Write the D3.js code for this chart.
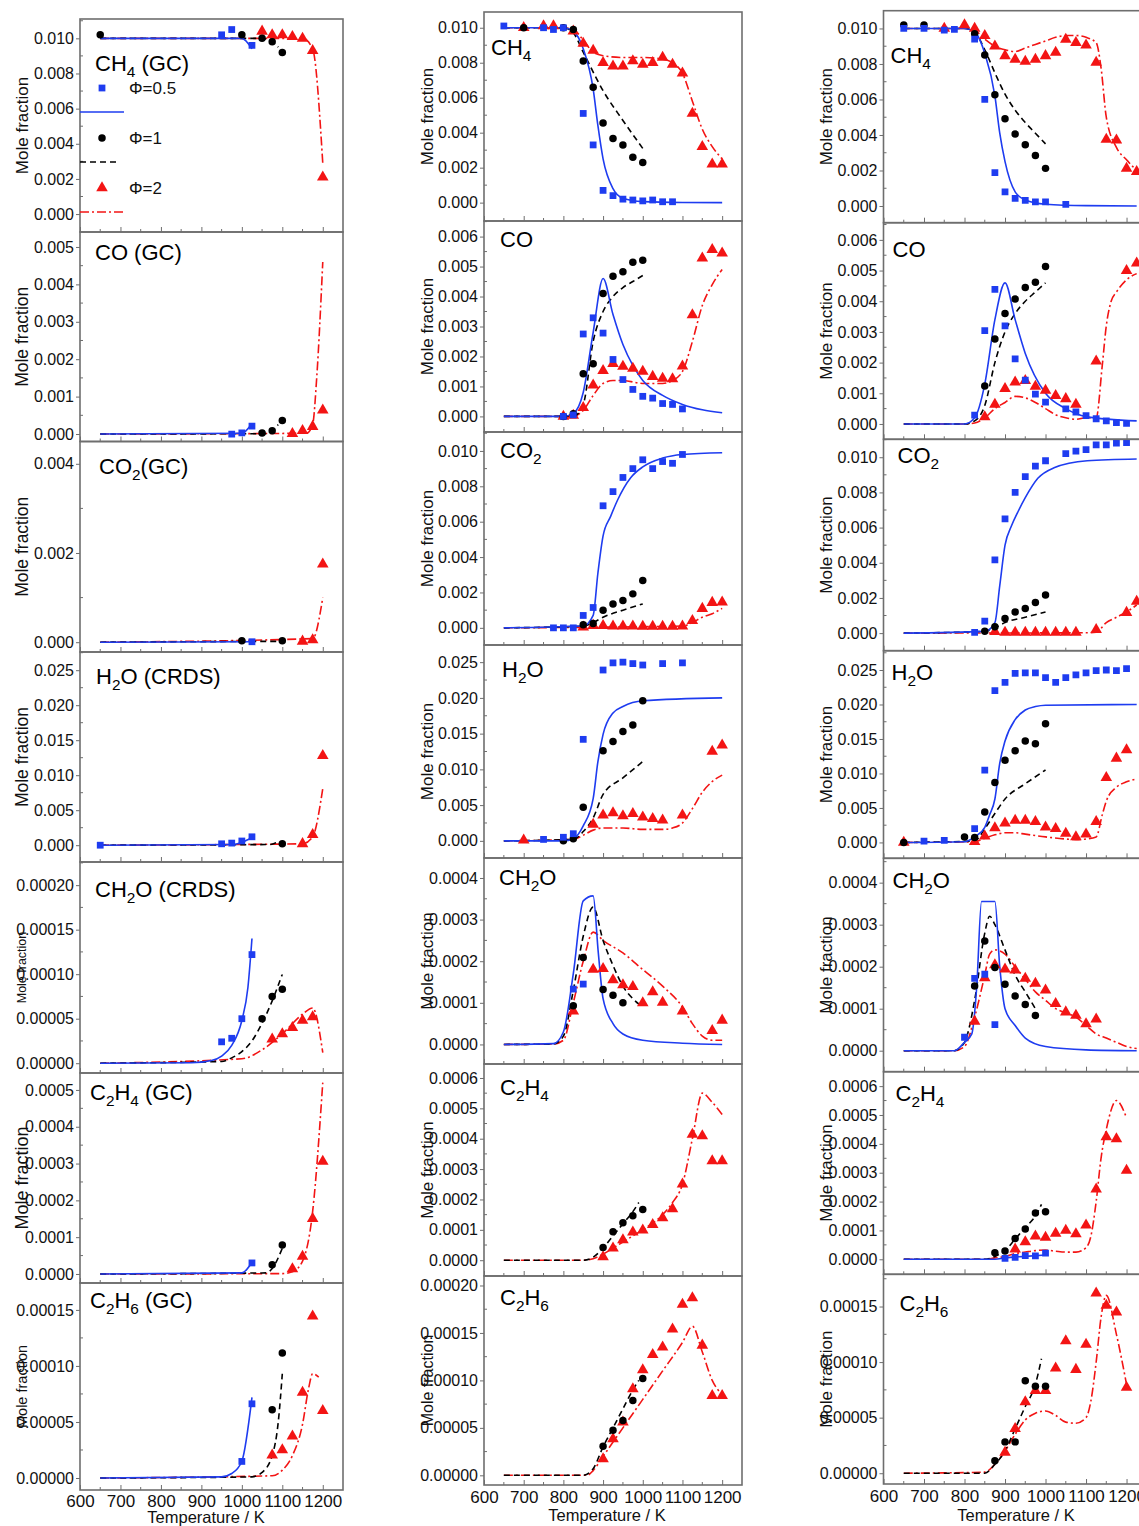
<!DOCTYPE html>
<html>
<head>
<meta charset="utf-8">
<script src="https://cdn.jsdelivr.net/npm/d3@7"></script>
<style>
  body { margin: 0; background: #fff; }
  svg { font-family: "Liberation Sans", Arial, sans-serif; }
</style>
</head>
<body>
<div id="chart"></div>
<script>
// ---------- data: [T (K), mole fraction] ----------
// column a (GC / CRDS)
var CH4_a_phi05 = [[950,0.0102],[975,0.0105],[1025,0.0096]];
var CH4_a_phi1  = [[650,0.0102],[1000,0.0102],[1050,0.0100],[1075,0.0098],[1100,0.0092]];
var CH4_a_phi2  = [[1050,0.0104],[1075,0.0102],[1100,0.0102],[1125,0.0101],[1150,0.0100],[1175,0.0093],[1200,0.0021]];
var CH4_a_sim05 = [[650,0.0100],[1000,0.0100],[1025,0.0094]];
var CH4_a_sim1  = [[650,0.0100],[1050,0.0100],[1075,0.0098],[1090,0.0095]];
var CH4_a_sim2  = [[650,0.0100],[1150,0.0100],[1175,0.0094],[1200,0.0029]];

var CO_a_phi05 = [[975,0.0],[1000,0.00003],[1025,0.00021]];
var CO_a_phi1  = [[1050,0.00003],[1075,0.00009],[1100,0.00036]];
var CO_a_phi2  = [[1125,0.00001],[1150,0.00009],[1175,0.0002],[1200,0.00064]];
var CO_a_sim05 = [[650,0],[1000,0.00002],[1025,0.00028]];
var CO_a_sim1  = [[650,0],[1060,0.00001],[1075,0.0001],[1090,0.00025]];
var CO_a_sim2  = [[650,0],[1160,0.00002],[1175,0.00025],[1185,0.0015],[1200,0.0046]];

var CO2_a_phi05 = [[1025,0.00001]];
var CO2_a_phi1  = [[1000,0.00003],[1100,0.00003]];
var CO2_a_phi2  = [[1150,0.00002],[1175,0.00005],[1200,0.00175]];
var CO2_a_sim05 = [[650,0],[1025,0.00001]];
var CO2_a_sim1  = [[650,0],[1100,0.00002]];
var CO2_a_sim2  = [[650,0],[1175,0.00008],[1200,0.001]];

var H2O_a_phi05 = [[650,0],[950,0.0002],[975,0.0003],[1000,0.0006],[1025,0.0012]];
var H2O_a_phi1  = [[1100,0.0002]];
var H2O_a_phi2  = [[1150,0.0002],[1175,0.0015],[1200,0.0128]];
var H2O_a_sim05 = [[650,0],[975,0.0001],[1000,0.0004],[1025,0.0011]];
var H2O_a_sim1  = [[650,0],[1070,0.0001],[1090,0.0004],[1100,0.0002]];
var H2O_a_sim2  = [[650,0],[1150,0.0002],[1175,0.0012],[1200,0.0081]];

var CH2O_a_phi05 = [[950,0.000024],[975,0.000028],[1000,0.00005],[1025,0.000122]];
var CH2O_a_phi1  = [[1050,0.00005],[1075,0.000075],[1100,0.000083]];
var CH2O_a_phi2  = [[1075,0.000027],[1100,0.000033],[1125,0.00004],[1150,0.000048],[1175,0.000052]];
var CH2O_a_sim05 = [[650,0],[875,0.0000005],[925,0.000003],[950,0.000008],[975,0.00002],[1000,0.000048],[1015,0.000085],[1025,0.00014]];
var CH2O_a_sim1  = [[650,0],[950,0.000002],[975,0.000006],[1000,0.000013],[1025,0.000025],[1050,0.000045],[1075,0.00007],[1100,0.0001]];
var CH2O_a_sim2  = [[650,0],[1000,0.000005],[1050,0.000015],[1100,0.000033],[1150,0.000055],[1175,0.000062],[1200,0.000012]];

var C2H4_a_phi05 = [[1025,0.00003]];
var C2H4_a_phi1  = [[1075,0.000025],[1100,0.000079]];
var C2H4_a_phi2  = [[1125,0.000014],[1150,0.000048],[1175,0.00015],[1200,0.000306]];
var C2H4_a_sim05 = [[650,0],[1000,0.000003],[1025,0.000032]];
var C2H4_a_sim1  = [[650,0],[1060,0.000003],[1075,0.000015],[1100,0.00007]];
var C2H4_a_sim2  = [[650,0],[1100,0.000001],[1125,0.000006],[1150,0.000035],[1175,0.00017],[1200,0.00052]];

var C2H6_a_phi05 = [[1000,0.0000148],[1025,0.0000662]];
var C2H6_a_phi1  = [[1075,0.000061],[1100,0.0001115]];
var C2H6_a_phi2  = [[1075,0.0000203],[1100,0.000025],[1125,0.0000374],[1150,0.0000764],[1175,0.0001445],[1200,0.00006]];
var C2H6_a_sim05 = [[650,0],[950,0.000001],[975,0.000004],[1000,0.000015],[1025,0.000072]];
var C2H6_a_sim1  = [[650,0],[1025,0.000001],[1050,0.000005],[1075,0.00002],[1090,0.00005],[1100,0.000093]];
var C2H6_a_sim2  = [[650,0],[1075,0.000002],[1100,0.000007],[1125,0.00002],[1150,0.000048],[1165,0.00008],[1175,0.000093],[1190,0.00009]];

// column b
var CH4_b_phi05 = [[650,0.0101],[750,0.0100],[775,0.0099],[800,0.0100],[850,0.0051],[875,0.0033],[900,0.0007],[925,0.0004],[950,0.0002],[975,0.00015],[1000,0.0001],[1025,0.00015],[1050,0.00005],[1075,0.00005]];
var CH4_b_phi1  = [[700,0.0100],[800,0.0100],[825,0.0099],[850,0.0081],[875,0.0066],[900,0.00455],[925,0.00367],[950,0.0033],[975,0.0026],[1000,0.0023]];
var CH4_b_phi2  = [[700,0.0100],[750,0.0101],[775,0.0101],[825,0.0098],[850,0.0091],[875,0.0087],[900,0.0080],[925,0.0078],[950,0.0078],[975,0.0081],[1000,0.0079],[1025,0.0080],[1050,0.0083],[1075,0.0079],[1100,0.0074],[1125,0.0051],[1150,0.0032],[1175,0.0022],[1200,0.0022]];
var CH4_b_sim05 = [[650,0.0100],[800,0.0100],[825,0.0098],[850,0.0088],[875,0.0065],[887,0.0044],[900,0.0025],[925,0.0008],[950,0.00025],[1000,0.00006],[1100,0.00001],[1200,0]];
var CH4_b_sim1  = [[650,0.0100],[800,0.0100],[825,0.0097],[850,0.0086],[900,0.0064],[950,0.0047],[1000,0.0031]];
var CH4_b_sim2  = [[650,0.0100],[800,0.0100],[825,0.0099],[850,0.0093],[875,0.0086],[900,0.0084],[950,0.0083],[1000,0.0083],[1050,0.0082],[1075,0.0080],[1100,0.0074],[1125,0.0058],[1150,0.0042],[1175,0.0032],[1200,0.0025]];

var CO_b_phi05 = [[800,0],[825,0.00005],[850,0.00275],[875,0.00329],[900,0.00278],[925,0.0019],[950,0.00123],[975,0.0009],[1000,0.00067],[1025,0.00061],[1050,0.00043],[1075,0.0004],[1100,0.00025]];
var CO_b_phi1  = [[800,0],[825,0.00009],[850,0.00142],[875,0.00176],[900,0.0041],[925,0.00468],[950,0.00483],[975,0.00514],[1000,0.00521]];
var CO_b_phi2  = [[800,0],[825,0.00003],[850,0.00029],[875,0.00104],[900,0.00153],[925,0.00176],[950,0.00167],[975,0.0016],[1000,0.0015],[1025,0.00133],[1050,0.00127],[1075,0.00125],[1100,0.00168],[1125,0.00339],[1150,0.00528],[1175,0.00556],[1200,0.00545]];
var CO_b_sim05 = [[650,0],[800,0],[825,0.0001],[850,0.0008],[875,0.0028],[900,0.0046],[925,0.0034],[950,0.0024],[975,0.0017],[1000,0.0012],[1050,0.0007],[1100,0.0004],[1150,0.00022],[1200,0.00012]];
var CO_b_sim1  = [[650,0],[825,0],[850,0.0004],[875,0.0025],[900,0.0035],[925,0.004],[950,0.0043],[975,0.0045],[1000,0.0047]];
var CO_b_sim2  = [[650,0],[825,0],[850,0.0002],[875,0.0007],[900,0.0011],[925,0.0012],[950,0.0012],[1000,0.0011],[1050,0.0011],[1075,0.0012],[1100,0.0015],[1125,0.0025],[1150,0.0037],[1175,0.0044],[1200,0.0049]];

var CO2_b_phi05 = [[775,0],[800,0],[825,0],[850,0.0007],[875,0.00115],[900,0.0069],[925,0.0077],[950,0.0085],[975,0.009],[1000,0.0095],[1025,0.009],[1050,0.0094],[1075,0.0093],[1100,0.0098]];
var CO2_b_phi1  = [[850,0.00017],[875,0.00025],[900,0.001],[925,0.00135],[950,0.00154],[975,0.00192],[1000,0.00267]];
var CO2_b_phi2  = [[850,0.00004],[875,0.00013],[900,0.00012],[925,0.0001],[950,0.0001],[975,0.0001],[1000,0.00008],[1025,0.00008],[1050,0.00008],[1075,0.00008],[1100,0.0001],[1125,0.0004],[1150,0.00109],[1175,0.00143],[1200,0.00145]];
var CO2_b_sim05 = [[650,0],[850,0.0001],[875,0.0007],[887,0.0031],[900,0.0052],[919,0.0063],[936,0.0072],[970,0.0085],[1000,0.0091],[1050,0.0096],[1100,0.0098],[1200,0.0099]];
var CO2_b_sim1  = [[650,0],[850,0.0001],[875,0.0003],[900,0.0006],[950,0.001],[1000,0.00135]];
var CO2_b_sim2  = [[650,0],[1100,0.0001],[1125,0.0003],[1150,0.0006],[1175,0.0008],[1200,0.0011]];

var H2O_b_phi05 = [[750,0.0002],[800,0.0005],[825,0.001],[850,0.0142],[900,0.0239],[925,0.0249],[950,0.025],[975,0.0248],[1000,0.0246],[1050,0.0248],[1100,0.0249]];
var H2O_b_phi1  = [[800,0],[825,0.0003],[850,0.0047],[900,0.0126],[925,0.0139],[950,0.0153],[975,0.0162],[1000,0.0196]];
var H2O_b_phi2  = [[700,0.0001],[875,0.0023],[900,0.0036],[925,0.0039],[950,0.0035],[975,0.0038],[1000,0.0033],[1025,0.0031],[1050,0.0029],[1100,0.0036],[1175,0.0125],[1200,0.0134]];
var H2O_b_sim05 = [[650,0],[800,0],[825,0.0003],[850,0.0021],[875,0.0059],[887,0.0111],[900,0.0149],[925,0.0179],[950,0.0188],[1000,0.0196],[1200,0.0200]];
var H2O_b_sim1  = [[650,0],[825,0.0002],[850,0.0013],[875,0.0032],[900,0.0065],[950,0.0088],[1000,0.0111]];
var H2O_b_sim2  = [[650,0],[825,0.0002],[850,0.0008],[875,0.0015],[900,0.0018],[950,0.0018],[1000,0.0016],[1050,0.0016],[1075,0.0018],[1100,0.0025],[1125,0.0045],[1150,0.0068],[1175,0.0083],[1200,0.0092]];

var CH2O_b_phi05 = [[825,0.000133],[850,0.000145]];
var CH2O_b_phi1  = [[825,0.000093],[850,0.000209],[900,0.000132],[925,0.000118],[950,0.0001]];
var CH2O_b_phi2  = [[825,0.00008],[875,0.00018],[900,0.000182],[925,0.000155],[950,0.000143],[975,0.000139],[1000,0.0001],[1025,0.000126],[1050,0.000101],[1100,0.00008],[1175,0.000033],[1200,0.000058]];
var CH2O_b_sim05 = [[650,0],[775,0.000002],[800,0.00003],[825,0.00017],[850,0.000345],[875,0.000357],[888,0.00022],[900,0.00011],[925,0.00005],[950,0.000025],[1000,0.00001],[1100,0.000003],[1200,0]];
var CH2O_b_sim1  = [[650,0],[775,0.000001],[800,0.00002],[825,0.00013],[850,0.00026],[875,0.00033],[900,0.00025],[925,0.00019],[950,0.00014],[975,0.00011],[1000,0.00009]];
var CH2O_b_sim2  = [[650,0],[775,0.000001],[800,0.00001],[825,0.0001],[850,0.0002],[875,0.00027],[900,0.00025],[950,0.00022],[1000,0.00018],[1050,0.00014],[1100,0.00009],[1125,0.00005],[1150,0.00002],[1175,0.00001],[1200,0.00001]];

var C2H4_b_phi05 = [];
var C2H4_b_phi1  = [[900,0.000042],[925,0.000094],[950,0.000123],[975,0.000146],[1000,0.000167]];
var C2H4_b_phi2  = [[900,0.000011],[925,0.00004],[950,0.000067],[975,0.000092],[1000,0.000099],[1025,0.000117],[1050,0.000139],[1075,0.000169],[1100,0.00025],[1125,0.000414],[1150,0.000409],[1175,0.000327],[1200,0.000327]];
var C2H4_b_sim05 = [];
var C2H4_b_sim1  = [[650,0],[850,0],[875,0.00001],[900,0.00004],[925,0.00008],[950,0.00012],[975,0.00016],[990,0.00019]];
var C2H4_b_sim2  = [[650,0],[850,0],[875,0.000005],[900,0.00002],[925,0.00004],[950,0.00006],[975,0.00008],[1000,0.0001],[1050,0.00015],[1075,0.00019],[1100,0.00025],[1125,0.0004],[1150,0.00055],[1175,0.00052],[1200,0.00048]];

var C2H6_b_phi05 = [];
var C2H6_b_phi1  = [[900,0.0000306],[925,0.0000475],[950,0.0000577],[975,0.0000788],[1000,0.000102]];
var C2H6_b_phi2  = [[900,0.0000172],[925,0.0000383],[950,0.0000559],[975,0.000091],[1000,0.000111],[1025,0.000127],[1050,0.000135],[1075,0.000154],[1100,0.00018],[1125,0.000187],[1150,0.000137],[1175,0.000084],[1200,0.000084]];
var C2H6_b_sim05 = [];
var C2H6_b_sim1  = [[650,0],[850,0],[875,0.000007],[900,0.00003],[925,0.00005],[950,0.00007],[975,0.00009],[990,0.0001]];
var C2H6_b_sim2  = [[650,0],[860,0],[875,0.000005],[900,0.00002],[950,0.00005],[1000,0.00008],[1050,0.00011],[1100,0.00014],[1125,0.000157],[1150,0.00013],[1175,0.0001],[1200,0.000085]];

// column c
var CH4_c_phi05 = [[650,0.0100],[700,0.0100],[750,0.0099],[775,0.00995],[825,0.0094],[850,0.006],[875,0.00188],[900,0.00079],[925,0.00043],[950,0.00032],[975,0.00023],[1000,0.00023],[1050,0.00009]];
var CH4_c_phi1  = [[650,0.0102],[700,0.0102],[825,0.0097],[850,0.0085],[875,0.00627],[900,0.00492],[925,0.00405],[950,0.00345],[975,0.00285],[1000,0.00212]];
var CH4_c_phi2  = [[750,0.0100],[800,0.0102],[825,0.0100],[850,0.0096],[875,0.009],[900,0.00846],[925,0.00826],[950,0.00814],[975,0.00826],[1000,0.00846],[1025,0.00865],[1050,0.00938],[1075,0.0092],[1100,0.00906],[1125,0.00809],[1150,0.00375],[1175,0.00371],[1200,0.00212],[1225,0.00193]];
var CH4_c_sim05 = [[650,0.0100],[800,0.0100],[825,0.0098],[850,0.0086],[875,0.0062],[887,0.0041],[900,0.0025],[925,0.0008],[950,0.00034],[1000,0.0001],[1100,0.00002],[1225,0]];
var CH4_c_sim1  = [[650,0.0100],[800,0.0100],[825,0.0098],[850,0.0088],[875,0.0075],[900,0.0063],[925,0.0054],[950,0.0047],[975,0.0041],[1000,0.0035]];
var CH4_c_sim2  = [[650,0.0100],[800,0.0100],[825,0.0099],[850,0.0094],[875,0.009],[900,0.0088],[925,0.0087],[950,0.0089],[975,0.0091],[1000,0.0093],[1025,0.0095],[1050,0.0096],[1075,0.0096],[1100,0.0095],[1125,0.0092],[1137,0.0078],[1150,0.005],[1175,0.0033],[1200,0.0026],[1225,0.002]];

var CO_c_phi05 = [[825,0.00029],[850,0.00304],[875,0.00439],[900,0.0032],[925,0.00212],[950,0.00143],[975,0.00097],[1000,0.00071],[1050,0.00049],[1075,0.00039],[1100,0.00027],[1125,0.00017],[1150,0.0001],[1175,0.00004],[1200,0.00002]];
var CO_c_phi1  = [[850,0.00124],[875,0.00277],[900,0.0036],[925,0.00407],[950,0.00445],[975,0.00462],[1000,0.00513]];
var CO_c_phi2  = [[850,0.00023],[875,0.00064],[900,0.00115],[925,0.00136],[950,0.00141],[975,0.00122],[1000,0.00109],[1025,0.00092],[1050,0.00082],[1075,0.00064],[1125,0.00205],[1200,0.005],[1225,0.00524]];
var CO_c_sim05 = [[650,0],[800,0],[825,0.0002],[850,0.0013],[875,0.0034],[900,0.0046],[925,0.0034],[950,0.0023],[1000,0.001],[1050,0.0005],[1100,0.00024],[1225,0.0001]];
var CO_c_sim1  = [[650,0],[800,0],[825,0.0001],[850,0.0006],[875,0.002],[900,0.003],[925,0.0036],[950,0.004],[975,0.0043],[1000,0.0046]];
var CO_c_sim2  = [[650,0],[800,0],[825,0.00003],[850,0.0002],[875,0.0005],[900,0.0007],[925,0.0009],[950,0.00085],[975,0.0007],[1000,0.0005],[1025,0.0003],[1050,0.0002],[1075,0.00015],[1100,0.0002],[1125,0.0002],[1140,0.0019],[1150,0.0032],[1162,0.004],[1175,0.0043],[1200,0.0047],[1225,0.0049]];

var CO2_c_phi05 = [[825,0.00004],[850,0.00068],[875,0.00417],[900,0.0065],[925,0.008],[950,0.0089],[975,0.0095],[1000,0.0098],[1050,0.0102],[1075,0.01035],[1100,0.01043],[1125,0.0107],[1150,0.0107],[1175,0.0108],[1200,0.01083]];
var CO2_c_phi1  = [[850,0.00011],[875,0.00036],[900,0.00083],[925,0.0012],[950,0.0014],[975,0.00174],[1000,0.00217]];
var CO2_c_phi2  = [[875,0.00008],[900,0.00004],[925,0.00004],[950,0.00004],[975,0.00004],[1000,0.00004],[1025,0.00004],[1050,0.00004],[1075,0.00004],[1125,0.00019],[1200,0.00117],[1225,0.0018]];
var CO2_c_sim05 = [[650,0],[850,0.0001],[875,0.0006],[887,0.0027],[900,0.005],[916,0.0061],[932,0.0069],[950,0.0077],[981,0.0088],[1021,0.0094],[1103,0.0098],[1225,0.0099]];
var CO2_c_sim1  = [[650,0],[850,0.0001],[875,0.0003],[900,0.0006],[950,0.0009],[1000,0.0012]];
var CO2_c_sim2  = [[650,0],[1100,0.00002],[1125,0.00005],[1150,0.0006],[1175,0.0009],[1200,0.0012],[1225,0.0016]];

var H2O_c_phi05 = [[700,0.0002],[750,0.0003],[825,0.002],[850,0.0105],[875,0.022],[900,0.0232],[925,0.0245],[950,0.0246],[975,0.0246],[1000,0.0239],[1025,0.0232],[1050,0.0239],[1075,0.0243],[1100,0.0246],[1125,0.0249],[1150,0.025],[1175,0.0249],[1200,0.0252]];
var H2O_c_phi1  = [[650,0],[800,0.0008],[825,0.0007],[850,0.0044],[875,0.0087],[900,0.0119],[925,0.0133],[950,0.0147],[975,0.0143],[1000,0.0172]];
var H2O_c_phi2  = [[650,0],[825,0.0001],[850,0.0009],[875,0.0021],[900,0.0028],[925,0.0032],[950,0.0032],[975,0.003],[1000,0.0022],[1025,0.002],[1050,0.0013],[1075,0.0008],[1100,0.0012],[1125,0.003],[1150,0.0094],[1175,0.0122],[1200,0.0134]];
var H2O_c_sim05 = [[650,0],[800,0.0001],[825,0.0008],[850,0.0022],[862,0.004],[875,0.0063],[887,0.0115],[900,0.0147],[925,0.0178],[950,0.0192],[975,0.0197],[1000,0.0199],[1225,0.02]];
var H2O_c_sim1  = [[650,0],[825,0.0002],[850,0.002],[875,0.0042],[900,0.0063],[950,0.0085],[1000,0.0105]];
var H2O_c_sim2  = [[650,0],[825,0.0001],[850,0.0006],[875,0.0011],[900,0.0014],[925,0.0014],[950,0.0012],[1000,0.0008],[1050,0.0005],[1075,0.0004],[1100,0.0005],[1125,0.0008],[1140,0.004],[1150,0.006],[1175,0.008],[1200,0.0088],[1225,0.0092]];

var CH2O_c_phi05 = [[800,0.000032],[825,0.000172],[850,0.000182],[875,0.000062]];
var CH2O_c_phi1  = [[825,0.000154],[850,0.000261],[875,0.000198],[900,0.000158],[925,0.00013],[950,0.00011],[975,0.000084]];
var CH2O_c_phi2  = [[825,0.00007],[850,0.000173],[875,0.000204],[900,0.000194],[925,0.000192],[950,0.000172],[975,0.00016],[1000,0.000144],[1025,0.000112],[1050,0.000092],[1075,0.000084],[1100,0.000064],[1125,0.000075]];
var CH2O_c_sim05 = [[650,0],[775,0],[800,0.00002],[818,0.00004],[830,0.00015],[842,0.000355],[875,0.000355],[887,0.0002],[900,0.0001],[925,0.00006],[950,0.00003],[1000,0.00001],[1100,0.000002],[1225,0]];
var CH2O_c_sim1  = [[650,0],[775,0],[800,0.00002],[825,0.00012],[850,0.00028],[862,0.00032],[875,0.0003],[900,0.00024],[925,0.00018],[950,0.00014],[975,0.0001]];
var CH2O_c_sim2  = [[650,0],[775,0],[800,0.00001],[825,0.00008],[850,0.00018],[862,0.00023],[875,0.00024],[900,0.00023],[925,0.0002],[950,0.00017],[975,0.00014],[1000,0.00012],[1025,0.0001],[1050,0.00009],[1075,0.00008],[1100,0.00006],[1125,0.00004],[1150,0.00003],[1175,0.00002],[1200,0.00001],[1225,0.000005]];

var C2H4_c_phi05 = [[900,0.000003],[925,0.000007],[950,0.000013],[975,0.000012],[1000,0.000021]];
var C2H4_c_phi1  = [[875,0.000023],[900,0.000029],[925,0.000072],[950,0.000105],[975,0.00016],[1000,0.000165]];
var C2H4_c_phi2  = [[925,0.000035],[950,0.00006],[975,0.00008],[1000,0.000076],[1025,0.00009],[1050,0.0001],[1075,0.000088],[1100,0.000118],[1125,0.000243],[1150,0.000424],[1175,0.000417],[1200,0.000308]];
var C2H4_c_sim05 = [[650,0],[875,0],[900,0.000005],[950,0.00001],[1000,0.000015]];
var C2H4_c_sim1  = [[650,0],[850,0],[875,0.00001],[900,0.00003],[925,0.00007],[950,0.00011],[975,0.00015],[990,0.00019]];
var C2H4_c_sim2  = [[650,0],[850,0],[875,0.000005],[900,0.00001],[925,0.00002],[950,0.000025],[975,0.00003],[1000,0.000032],[1025,0.000028],[1050,0.000025],[1075,0.000025],[1100,0.00004],[1112,0.00008],[1125,0.0002],[1137,0.00035],[1150,0.00045],[1175,0.00055],[1200,0.00049]];

var C2H6_c_phi05 = [];
var C2H6_c_phi1  = [[875,0.0000112],[900,0.0000282],[925,0.0000282],[950,0.0000833],[975,0.0000782],[1000,0.0000782]];
var C2H6_c_phi2  = [[900,0.0000188],[925,0.00004],[950,0.0000642],[975,0.0000742],[1000,0.0000742],[1025,0.0000945],[1050,0.000119],[1075,0.0000933],[1100,0.000116],[1125,0.000162],[1150,0.000151],[1175,0.000145],[1200,0.0000773]];
var C2H6_c_sim05 = [];
var C2H6_c_sim1  = [[650,0],[850,0],[875,0.000008],[900,0.00002],[925,0.00004],[950,0.00006],[975,0.00008],[990,0.000103]];
var C2H6_c_sim2  = [[650,0],[850,0.000001],[875,0.000008],[900,0.00002],[925,0.000035],[950,0.000048],[975,0.000054],[1000,0.000056],[1025,0.000052],[1050,0.000046],[1075,0.000045],[1100,0.00005],[1112,0.000065],[1125,0.0001],[1137,0.00014],[1150,0.00016],[1175,0.000125],[1200,0.00008]];

// ---------- labels and ticks ----------
var titles_a = ["CH4 (GC)", "CO (GC)", "CO2(GC)", "H2O (CRDS)", "CH2O (CRDS)", "C2H4 (GC)", "C2H6 (GC)"];
var titles_bc = ["CH4", "CO", "CO2", "H2O", "CH2O", "C2H4", "C2H6"];
var legendLabels = ["\u03A6=0.5", "\u03A6=1", "\u03A6=2"];
var tempTicks = [600, 700, 800, 900, 1000, 1100, 1200];
var tempMinor = [650, 750, 850, 950, 1050, 1150];

var yTicks_a = [
  [0, 0.002, 0.004, 0.006, 0.008, 0.010],
  [0, 0.001, 0.002, 0.003, 0.004, 0.005],
  [0, 0.002, 0.004],
  [0, 0.005, 0.010, 0.015, 0.020, 0.025],
  [0, 0.00005, 0.0001, 0.00015, 0.0002],
  [0, 0.0001, 0.0002, 0.0003, 0.0004, 0.0005],
  [0, 0.00005, 0.0001, 0.00015]
];
var yTicks_b = [
  [0, 0.002, 0.004, 0.006, 0.008, 0.010],
  [0, 0.001, 0.002, 0.003, 0.004, 0.005, 0.006],
  [0, 0.002, 0.004, 0.006, 0.008, 0.010],
  [0, 0.005, 0.010, 0.015, 0.020, 0.025],
  [0, 0.0001, 0.0002, 0.0003, 0.0004],
  [0, 0.0001, 0.0002, 0.0003, 0.0004, 0.0005, 0.0006],
  [0, 0.00005, 0.0001, 0.00015, 0.0002]
];
var yTicks_c = [
  [0, 0.002, 0.004, 0.006, 0.008, 0.010],
  [0, 0.001, 0.002, 0.003, 0.004, 0.005, 0.006],
  [0, 0.002, 0.004, 0.006, 0.008, 0.010],
  [0, 0.005, 0.010, 0.015, 0.020, 0.025],
  [0, 0.0001, 0.0002, 0.0003, 0.0004],
  [0, 0.0001, 0.0002, 0.0003, 0.0004, 0.0005, 0.0006],
  [0, 0.00005, 0.0001, 0.00015]
];
var yDecimals_a = [3, 3, 3, 3, 5, 4, 5];
var yDecimals_bc = [3, 3, 3, 3, 4, 4, 5];

// ---------- layout (pixels) ----------
var layout = [
  { key: "a", left: 80, right: 343, tops: [19, 232, 441.5, 652, 862, 1073, 1283], bottom: 1490, ylab: 22, xlabCx: 206, xlabY: 1523,
    yDom: [[-0.00102,0.0111],[-0.0002,0.0054],[-0.00022,0.0045],[-0.0024,0.0276],[-0.000011,0.000226],[-0.0000245,0.000546],[-0.0000107,0.000174]],
    ticks: yTicks_a, dec: yDecimals_a, titles: titles_a,
    tx: [15, 15, 19, 16, 15, 10, 10], ty: [71, 260, 474, 684, 897, 1100, 1308],
    labSize: [17, 17.5, 17.5, 17.5, 12.5, 18, 14.5] },
  { key: "b", left: 484, right: 742, tops: [12, 221, 432, 645, 858, 1064, 1276], bottom: 1485, ylab: 427, xlabCx: 607, xlabY: 1521,
    yDom: [[-0.00105,0.0109],[-0.00052,0.00652],[-0.00097,0.01107],[-0.0024,0.0274],[-0.000047,0.000448],[-0.000052,0.000646],[-0.0000102,0.00021]],
    ticks: yTicks_b, dec: yDecimals_bc, titles: titles_bc,
    tx: [7, 16, 16, 18, 15, 16, 16], ty: [55, 247, 458, 677, 885, 1095, 1305],
    labSize: [17, 17, 17, 17, 17, 17, 16] },
  { key: "c", left: 883.5, right: 1146.8, tops: [10.7, 222.7, 439.3, 650.7, 858.3, 1071.7, 1274.3], bottom: 1484, ylab: 826, xlabCx: 1016, xlabY: 1521,
    yDom: [[-0.00094,0.011],[-0.0005,0.00656],[-0.001,0.01102],[-0.0023,0.0278],[-0.00005,0.000458],[-0.000052,0.00065],[-0.0000097,0.000179]],
    ticks: yTicks_c, dec: yDecimals_bc, titles: titles_bc,
    tx: [7, 9, 14, 8, 9, 12, 16], ty: [63, 257, 463, 680, 888, 1101, 1311],
    labSize: [17, 17, 17, 17, 17, 17, 17] }
];

var seriesTable = {
  a: [
    [CH4_a_phi05, CH4_a_phi1, CH4_a_phi2, CH4_a_sim05, CH4_a_sim1, CH4_a_sim2],
    [CO_a_phi05, CO_a_phi1, CO_a_phi2, CO_a_sim05, CO_a_sim1, CO_a_sim2],
    [CO2_a_phi05, CO2_a_phi1, CO2_a_phi2, CO2_a_sim05, CO2_a_sim1, CO2_a_sim2],
    [H2O_a_phi05, H2O_a_phi1, H2O_a_phi2, H2O_a_sim05, H2O_a_sim1, H2O_a_sim2],
    [CH2O_a_phi05, CH2O_a_phi1, CH2O_a_phi2, CH2O_a_sim05, CH2O_a_sim1, CH2O_a_sim2],
    [C2H4_a_phi05, C2H4_a_phi1, C2H4_a_phi2, C2H4_a_sim05, C2H4_a_sim1, C2H4_a_sim2],
    [C2H6_a_phi05, C2H6_a_phi1, C2H6_a_phi2, C2H6_a_sim05, C2H6_a_sim1, C2H6_a_sim2]
  ],
  b: [
    [CH4_b_phi05, CH4_b_phi1, CH4_b_phi2, CH4_b_sim05, CH4_b_sim1, CH4_b_sim2],
    [CO_b_phi05, CO_b_phi1, CO_b_phi2, CO_b_sim05, CO_b_sim1, CO_b_sim2],
    [CO2_b_phi05, CO2_b_phi1, CO2_b_phi2, CO2_b_sim05, CO2_b_sim1, CO2_b_sim2],
    [H2O_b_phi05, H2O_b_phi1, H2O_b_phi2, H2O_b_sim05, H2O_b_sim1, H2O_b_sim2],
    [CH2O_b_phi05, CH2O_b_phi1, CH2O_b_phi2, CH2O_b_sim05, CH2O_b_sim1, CH2O_b_sim2],
    [C2H4_b_phi05, C2H4_b_phi1, C2H4_b_phi2, C2H4_b_sim05, C2H4_b_sim1, C2H4_b_sim2],
    [C2H6_b_phi05, C2H6_b_phi1, C2H6_b_phi2, C2H6_b_sim05, C2H6_b_sim1, C2H6_b_sim2]
  ],
  c: [
    [CH4_c_phi05, CH4_c_phi1, CH4_c_phi2, CH4_c_sim05, CH4_c_sim1, CH4_c_sim2],
    [CO_c_phi05, CO_c_phi1, CO_c_phi2, CO_c_sim05, CO_c_sim1, CO_c_sim2],
    [CO2_c_phi05, CO2_c_phi1, CO2_c_phi2, CO2_c_sim05, CO2_c_sim1, CO2_c_sim2],
    [H2O_c_phi05, H2O_c_phi1, H2O_c_phi2, H2O_c_sim05, H2O_c_sim1, H2O_c_sim2],
    [CH2O_c_phi05, CH2O_c_phi1, CH2O_c_phi2, CH2O_c_sim05, CH2O_c_sim1, CH2O_c_sim2],
    [C2H4_c_phi05, C2H4_c_phi1, C2H4_c_phi2, C2H4_c_sim05, C2H4_c_sim1, C2H4_c_sim2],
    [C2H6_c_phi05, C2H6_c_phi1, C2H6_c_phi2, C2H6_c_sim05, C2H6_c_sim1, C2H6_c_sim2]
  ]
};

// ---------- styles ----------
var BLUE = "#1e3cf0", BLACK = "#000", RED = "#f31414", FRAME = "#6e6e6e";
var markerSym = [d3.symbolSquare, d3.symbolCircle, d3.symbolTriangle];
var markerSize = [46, 44, 58];
var colors = [BLUE, BLACK, RED];
var dashes = [null, "6,4", "9,3,2,3"];

var svg = d3.select("#chart").append("svg")
  .attr("width", 1139).attr("height", 1526);

// text with digits drawn as subscripts (CH4 -> CH₄)
function addFormula(g, txt, x, y, size) {
  var t = g.append("text").attr("x", x).attr("y", y).attr("font-size", size).attr("fill", "#000");
  var parts = txt.split(/(\d+)/), sub = false;
  parts.forEach(function(p, i) {
    if (!p) return;
    var isSub = (i % 2 === 1);
    var dy = isSub ? (sub ? 0 : 6) : (sub ? -6 : 0);
    t.append("tspan").attr("dy", dy).attr("font-size", isSub ? size * 0.7 : size).text(p);
    sub = isSub;
  });
}

layout.forEach(function(col, ci) {
  var x = d3.scaleLinear().domain([600, 1250]).range([col.left, col.right]);

  col.tops.forEach(function(top, ri) {
    var bottom = ri < 6 ? col.tops[ri + 1] : col.bottom;
    var y = d3.scaleLinear().domain(col.yDom[ri]).range([bottom, top]);
    var g = svg.append("g");
    var clipId = "clip" + ci + "_" + ri;

    g.append("clipPath").attr("id", clipId).append("rect")
      .attr("x", col.left).attr("y", top).attr("width", col.right - col.left).attr("height", bottom - top);

    // y axis
    var yAxis = d3.axisLeft(y).tickValues(col.ticks[ri])
      .tickFormat(d3.format("." + col.dec[ri] + "f")).tickSize(4).tickPadding(2);
    var ya = g.append("g").attr("transform", "translate(" + col.left + ",0)").call(yAxis);
    ya.select(".domain").remove();
    ya.selectAll("text").attr("font-size", 16).attr("font-family", "Liberation Sans, Arial, sans-serif").attr("fill", "#111");
    ya.selectAll("line").attr("stroke", FRAME);

    // y minor ticks (inside)
    var tk = col.ticks[ri], step = tk[1] - tk[0];
    var minors = tk.map(function(v) { return v + step / 2; })
      .filter(function(v) { return v < col.yDom[ri][1]; });
    g.selectAll(".ymin").data(minors).enter().append("line")
      .attr("x1", col.left).attr("x2", col.left + 3)
      .attr("y1", function(d) { return y(d); }).attr("y2", function(d) { return y(d); })
      .attr("stroke", FRAME).attr("stroke-width", 1);

    // x ticks (inside, from bottom)
    var isBottom = (ri === 6);
    var xAxis = d3.axisBottom(x).tickValues(tempTicks).tickSize(-5).tickPadding(ci === 0 ? 5 : 6)
      .tickFormat(isBottom ? d3.format("d") : function() { return ""; });
    var xa = g.append("g").attr("transform", "translate(0," + bottom + ")").call(xAxis);
    xa.select(".domain").remove();
    xa.selectAll("line").attr("stroke", FRAME);
    xa.selectAll("text").attr("font-size", 17).attr("font-family", "Liberation Sans, Arial, sans-serif").attr("fill", "#111");
    g.selectAll(".xmin").data(tempMinor).enter().append("line")
      .attr("x1", function(d) { return x(d); }).attr("x2", function(d) { return x(d); })
      .attr("y1", bottom).attr("y2", bottom - 3)
      .attr("stroke", FRAME).attr("stroke-width", 1);

    // model lines
    var series = seriesTable[col.key][ri];
    var line = d3.line()
      .x(function(d) { return x(d[0]); })
      .y(function(d) { return y(d[1]); })
      .curve(d3.curveMonotoneX);
    var plot = g.append("g").attr("clip-path", "url(#" + clipId + ")");
    [2, 1, 0].forEach(function(k) {
      var s = series[3 + k];
      if (!s.length) return;
      plot.append("path").datum(s).attr("d", line)
        .attr("fill", "none").attr("stroke", colors[k]).attr("stroke-width", 1.6)
        .attr("stroke-dasharray", dashes[k]);
    });

    // measured points
    [2, 1, 0].forEach(function(k) {
      plot.selectAll(".m" + k).data(series[k]).enter().append("path")
        .attr("d", d3.symbol().type(markerSym[k]).size(markerSize[k]))
        .attr("transform", function(d) { return "translate(" + x(d[0]) + "," + y(d[1]) + ")"; })
        .attr("fill", colors[k]);
    });

    // frame
    g.append("rect").attr("x", col.left).attr("y", top)
      .attr("width", col.right - col.left).attr("height", bottom - top)
      .attr("fill", "none").attr("stroke", FRAME).attr("stroke-width", 1.6);

    // species title
    addFormula(g, col.titles[ri], col.left + col.tx[ri], col.ty[ri], 22);

    // y label
    g.append("text")
      .attr("transform", "translate(" + col.ylab + "," + ((top + bottom) / 2) + ") rotate(-90)")
      .attr("text-anchor", "middle").attr("dy", "0.35em")
      .attr("font-size", col.labSize[ri]).attr("fill", "#111")
      .text("Mole fraction");

    if (isBottom) {
      g.append("text").attr("x", col.xlabCx).attr("y", col.xlabY)
        .attr("text-anchor", "middle").attr("font-size", 16.5).attr("fill", "#111")
        .text("Temperature / K");
    }
  });
});

// legend inside the first panel
var lg = svg.append("g");
var legRows = [88, 138, 188];
var legLineEnd = [124, 117, 124];
legRows.forEach(function(yy, k) {
  lg.append("path")
    .attr("d", d3.symbol().type(markerSym[k]).size(markerSize[k]))
    .attr("transform", "translate(102," + yy + ")").attr("fill", colors[k]);
  lg.append("text").attr("x", 129).attr("y", yy + 6).attr("font-size", 17).attr("fill", "#111")
    .text(legendLabels[k]);
  lg.append("line").attr("x1", 80).attr("x2", legLineEnd[k]).attr("y1", yy + 24).attr("y2", yy + 24)
    .attr("stroke", colors[k]).attr("stroke-width", 1.6).attr("stroke-dasharray", dashes[k]);
});
</script>
</body>
</html>
